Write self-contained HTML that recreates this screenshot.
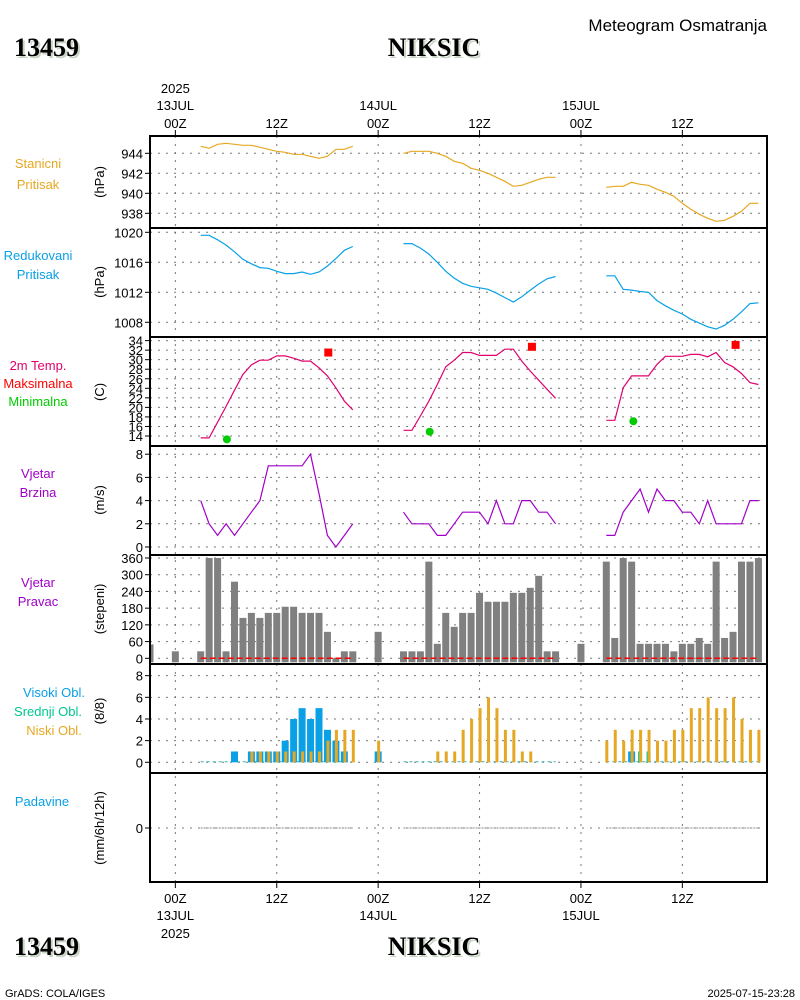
<!DOCTYPE html>
<html><head><meta charset="utf-8"><style>
body{margin:0;background:#fff;}
svg{display:block;font-family:"Liberation Sans",sans-serif;}
.t{font-size:13px;fill:#000;}
</style></head><body>
<svg id="c" width="800" height="1000" viewBox="0 0 800 1000">
<g>
<text x="14" y="56" font-family="Liberation Serif" font-weight="bold" font-size="26" fill="#c8d4c4" dx="2" dy="2">13459</text>
<text x="14" y="56" font-family="Liberation Serif" font-weight="bold" font-size="26">13459</text>
<text x="434" y="56" text-anchor="middle" font-family="Liberation Serif" font-weight="bold" font-size="26" fill="#c8d4c4" dx="2" dy="2">NIKSIC</text>
<text x="434" y="56" text-anchor="middle" font-family="Liberation Serif" font-weight="bold" font-size="26">NIKSIC</text>
<text x="767" y="31" text-anchor="end" font-size="17">Meteogram Osmatranja</text>
<text x="14" y="955" font-family="Liberation Serif" font-weight="bold" font-size="26" fill="#c8d4c4" dx="2" dy="2">13459</text>
<text x="14" y="955" font-family="Liberation Serif" font-weight="bold" font-size="26">13459</text>
<text x="434" y="955" text-anchor="middle" font-family="Liberation Serif" font-weight="bold" font-size="26" fill="#c8d4c4" dx="2" dy="2">NIKSIC</text>
<text x="434" y="955" text-anchor="middle" font-family="Liberation Serif" font-weight="bold" font-size="26">NIKSIC</text>
<text x="5" y="997" font-size="11">GrADS: COLA/IGES</text>
<text x="795" y="997" text-anchor="end" font-size="11">2025-07-15-23:28</text>
</g>
</svg>
<script>
// ---- data ----
const seg1Hours=[3,4,5,6,7,8,9,10,11,12,13,14,15,16,17,18,19,20,21];
const seg2Hours=[27,28,29,30,31,32,33,34,35,36,37,38,39,40,41,42,43,44,45];
const seg3Hours=[51,52,53,54,55,56,57,58,59,60,61,62,63,64,65,66,67,68,69];
const stationP1=[944.7,944.5,944.9,945.0,944.9,944.8,944.8,944.6,944.4,944.2,944.1,943.9,943.9,943.7,943.5,943.7,944.4,944.4,944.7];
const stationP2=[944.0,944.2,944.2,944.2,944.0,943.7,943.2,943.0,942.5,942.3,942.0,941.6,941.2,940.7,940.8,941.1,941.4,941.6,941.6];
const stationP3=[940.6,940.7,940.7,941.1,940.9,940.8,940.4,940.1,939.7,939.0,938.4,937.9,937.5,937.2,937.3,937.7,938.2,939.0,939.0];
const reducedP1=[1019.6,1019.6,1019.0,1018.3,1017.4,1016.4,1015.8,1015.3,1015.2,1014.8,1014.5,1014.5,1014.7,1014.4,1014.7,1015.5,1016.5,1017.6,1018.1];
const reducedP2=[1018.5,1018.5,1017.9,1017.1,1016.0,1014.8,1013.9,1013.2,1012.8,1012.6,1012.4,1011.9,1011.3,1010.7,1011.4,1012.3,1013.1,1013.8,1014.1];
const reducedP3=[1014.2,1014.2,1012.4,1012.3,1012.1,1012.0,1010.9,1010.2,1009.6,1009.1,1008.4,1007.9,1007.4,1007.1,1007.6,1008.4,1009.4,1010.5,1010.6];
const temp1=[13.6,13.6,16.9,20.2,23.6,26.9,28.9,29.9,29.9,30.8,30.8,30.3,29.7,29.7,28.3,26.6,24.1,21.3,19.5];
const temp2=[15.2,15.2,18.2,21.3,24.8,28.5,29.9,31.5,31.5,30.9,30.9,30.9,32.2,32.2,29.7,27.6,25.7,23.8,21.9];
const temp3=[17.3,17.3,24.1,26.6,26.6,26.6,29.0,30.7,30.7,30.7,31.1,31.1,30.6,31.5,29.4,28.5,27.1,25.2,24.8];
const maxHours=[18.1,42.2,66.3];
const maxValues=[31.5,32.7,33.1];
const minHours=[6.1,30.1,54.2];
const minValues=[13.3,14.9,17.1];
const wind1=[4,2,1,2,1,2,3,4,7,7,7,7,7,8,4.6,1,0,1,2];
const wind2=[3,2,2,2,1,1,2,3,3,3,2,4,2,2,4,4,3,3,2];
const wind3=[1,1,3,4,5,3,5,4,4,3,3,2,4,2,2,2,2,4,4];
const dirHours=[-3,0,3,4,5,6,7,8,9,10,11,12,13,14,15,16,17,18,19,20,21,24,27,28,29,30,31,32,33,34,35,36,37,38,39,40,41,42,43,44,45,48,51,52,53,54,55,56,57,58,59,60,61,62,63,64,65,66,67,68,69];
const dirValues=[50,25,25,360,360,25,275,145,163,145,163,163,185,185,163,163,163,95,0,25,25,95,25,25,25,347,52,163,113,163,163,235,203,203,203,235,235,253,296,25,25,52,347,73,360,347,52,52,52,52,25,52,52,73,52,347,73,95,347,347,360];
const highHours=[7,9,10,11,12,13,14,15,16,17,18,19,20,24,54];
const highValues=[1,1,1,1,1,2,4,5,4,5,3,2,1,1,1];
const midHours=[55,56];
const midValues=[1,1];
const lowHours=[9,10,11,12,13,14,15,16,17,18,19,20,21,24,31,32,33,34,35,36,37,38,39,40,41,42,51,52,53,54,55,56,57,58,59,60,61,62,63,64,65,66,67,68,69];
const lowValues=[1,1,1,1,1,1,1,1,1,2,3,3,3,2,1,1,1,3,4,5,6,5,3,3,1,1,2,3,2,3,3,3,2,2,3,3,5,5,6,5,5,6,4,3,3];
const timeTicks=[0,12,24,36,48,60];
const timeLabels=["00Z","12Z","00Z","12Z","00Z","12Z"];
const dateLabels=["13JUL","","14JUL","","15JUL",""];
const p1Ticks=[938,940,942,944];
const p2Ticks=[1008,1012,1016,1020];
const tTicks=[14,16,18,20,22,24,26,28,30,32,34];
const wTicks=[0,2,4,6,8];
const dTicks=[0,60,120,180,240,300,360];
const cTicks=[0,2,4,6,8];

// ---- axes ----
const X0=150,X1=767;
const xh=h=>X0+(h+3)*8.45;
const yP1=v=>153.3+(944-v)*10;
const yP2=v=>262.3+(1016-v)*7.5;
const yT=v=>436+(14-v)*4.77;
const yW=v=>547-v*11.6;
const yD=v=>658.3-v*0.2786;
const yC=v=>762.3-v*10.83;
const yR=v=>828-v*20;

const svg=document.getElementById('c');
const NS='http://www.w3.org/2000/svg';
function mk(tag,attrs,parent){const e=document.createElementNS(NS,tag);for(const k in attrs)e.setAttribute(k,attrs[k]);(parent||svg).appendChild(e);return e;}
function txt(x,y,s,attrs,parent){const e=mk('text',Object.assign({x:x,y:y,class:'t'},attrs||{}),parent);e.textContent=s;return e;}

const panels=[[136,228],[228,337],[337,446],[446,555],[555,664],[664,773],[773,882]];
const grid=mk('g',{});


// vertical gridlines
timeTicks.forEach(h=>{
  const l=mk('line',{x1:xh(h),x2:xh(h),y1:136,y2:882,stroke:'#777','stroke-dasharray':'2,6'},grid);
  
  
});
function hgrid(ticks,yf,fs,name){
  ticks.forEach(v=>{
    const y=yf(v);
    const l=mk('line',{x1:X0,x2:X1,y1:y,y2:y,stroke:'#777','stroke-dasharray':'2,6'},grid);
    
    
    mk('line',{x1:X0-5,x2:X0,y1:y,y2:y,stroke:'#000'},grid);
    const t=txt(X0-7,y+5,String(v),{'text-anchor':'end','font-size':fs},grid);
    
    
  });
}
hgrid(p1Ticks,yP1,14,'station-pressure');
hgrid(p2Ticks,yP2,14,'reduced-pressure');
hgrid(tTicks,yT,12,'temperature');
hgrid(wTicks,yW,14,'wind-speed');
hgrid(dTicks,yD,13,'wind-direction');
hgrid(cTicks,yC,14,'cloud');
hgrid([0],yR,14,'precip');

// time labels
timeTicks.forEach((h,i)=>{
  const x=xh(h);
  mk('line',{x1:x,x2:x,y1:130,y2:136,stroke:'#000'});
  mk('line',{x1:x,x2:x,y1:882,y2:888,stroke:'#000'});
  let t=txt(x,128,timeLabels[i],{'text-anchor':'middle','font-size':15});
  
  
  t=txt(x,903,timeLabels[i],{'text-anchor':'middle','font-size':15});
  
  
  if(dateLabels[i]){
    t=txt(x,110,dateLabels[i],{'text-anchor':'middle','font-size':15});
    
    
    t=txt(x,920,dateLabels[i],{'text-anchor':'middle','font-size':15});
    
    
  }
});
let yl=txt(xh(0),93,'2025',{'text-anchor':'middle','font-size':15});


yl=txt(xh(0),938,'2025',{'text-anchor':'middle','font-size':15});



// series helper
function line(hours,vals,yf,color,name){
  const pts=hours.map((h,i)=>xh(h).toFixed(1)+','+yf(vals[i]).toFixed(1)).join(' ');
  const p=mk('polyline',{points:pts,fill:'none',stroke:color,'stroke-width':1.2});
  
  
}
const OR='#e6a823',BL='#0aa0e6',MG='#e0006e',PU='#a000c8';
line(seg1Hours,stationP1,yP1,OR,'station-pressure-line');
line(seg2Hours,stationP2,yP1,OR,'station-pressure-line');
line(seg3Hours,stationP3,yP1,OR,'station-pressure-line');
line(seg1Hours,reducedP1,yP2,BL,'reduced-pressure-line');
line(seg2Hours,reducedP2,yP2,BL,'reduced-pressure-line');
line(seg3Hours,reducedP3,yP2,BL,'reduced-pressure-line');
line(seg1Hours,temp1,yT,MG,'temperature-line');
line(seg2Hours,temp2,yT,MG,'temperature-line');
line(seg3Hours,temp3,yT,MG,'temperature-line');
maxHours.forEach((h,i)=>{
  const r=mk('rect',{x:xh(h)-4,y:yT(maxValues[i])-4,width:8,height:8,fill:'#f00'});
  
  
});
minHours.forEach((h,i)=>{
  const c=mk('circle',{cx:xh(h),cy:yT(minValues[i]),r:4,fill:'#0c0'});
  
  
});
line(seg1Hours,wind1,yW,PU,'wind-speed-line');
line(seg2Hours,wind2,yW,PU,'wind-speed-line');
line(seg3Hours,wind3,yW,PU,'wind-speed-line');

// wind direction bars
dirHours.forEach((h,i)=>{
  const x=Math.max(X0,xh(h)-3.5), x2=xh(h)+3.5;
  const y=yD(dirValues[i]);
  const r=mk('rect',{x:x,y:y,width:x2-x,height:Math.max(0.5,yD(0)-y+4),fill:'#808080'});
  
  
});
[seg1Hours,seg2Hours,seg3Hours].forEach(s=>{
  const l=mk('line',{x1:xh(s[0]),x2:xh(s[s.length-1]),y1:yD(0),y2:yD(0),stroke:'#f00','stroke-width':1.5,'stroke-dasharray':'6,3'});
  
  
  const p=mk('line',{x1:xh(s[0]),x2:xh(s[s.length-1]),y1:yR(0),y2:yR(0),stroke:'#888','stroke-width':1,'stroke-dasharray':'2,1'});
  
  
  const c=mk('line',{x1:xh(s[0]),x2:xh(s[s.length-1]),y1:yC(0)-0.5,y2:yC(0)-0.5,stroke:'#3ab0b0','stroke-width':1,'stroke-dasharray':'3,3'});
  
  
});
// clouds
highHours.forEach((h,i)=>{
  const y=yC(highValues[i]);
  const r=mk('rect',{x:xh(h)-3.5,y:y,width:7,height:yC(0)-y,fill:BL});
  
  
});
midHours.forEach((h,i)=>{
  const y=yC(midValues[i]);
  const r=mk('rect',{x:xh(h)-2,y:y,width:4,height:yC(0)-y,fill:'#00c890'});
  
  
});
lowHours.forEach((h,i)=>{
  const y=yC(lowValues[i]);
  const r=mk('rect',{x:xh(h)-1,y:y,width:3,height:yC(0)-y,fill:OR});
  
  
});

// frames
panels.forEach(p=>{
  const r=mk('rect',{x:X0,y:p[0],width:X1-X0,height:p[1]-p[0],fill:'none',stroke:'#000','stroke-width':2});
  
  
});

// left labels
const labels=[
 ['Stanicni',38,168,OR],['Pritisak',38,189,OR],
 ['Redukovani',38,260,BL],['Pritisak',38,279,BL],
 ['2m Temp.',38,370,MG],['Maksimalna',38,388,'#f00'],['Minimalna',38,406,'#0c0'],
 ['Vjetar',38,478,PU],['Brzina',38,497,PU],
 ['Vjetar',38,587,PU],['Pravac',38,606,PU],
 ['Visoki Obl.',54,697,BL],['Srednji Obl.',48,716,'#00c890'],['Niski Obl.',54,735,OR],
 ['Padavine',42,806,BL]];
labels.forEach(l=>{
  const t=txt(l[1],l[2],l[0],{'text-anchor':'middle','font-size':14,fill:l[3],style:'fill:'+l[3]});
  
  
});
const units=[['(hPa)',182],['(hPa)',282],['(C)',392],['(m/s)',500],['(stepeni)',609],['(8/8)',711],['(mm/6h/12h)',828]];
units.forEach(u=>{
  const t=txt(0,0,u[0],{'text-anchor':'middle','font-size':15,transform:'translate(104,'+u[1]+') rotate(-90)'});
  
  
});
</script>
</body></html>
